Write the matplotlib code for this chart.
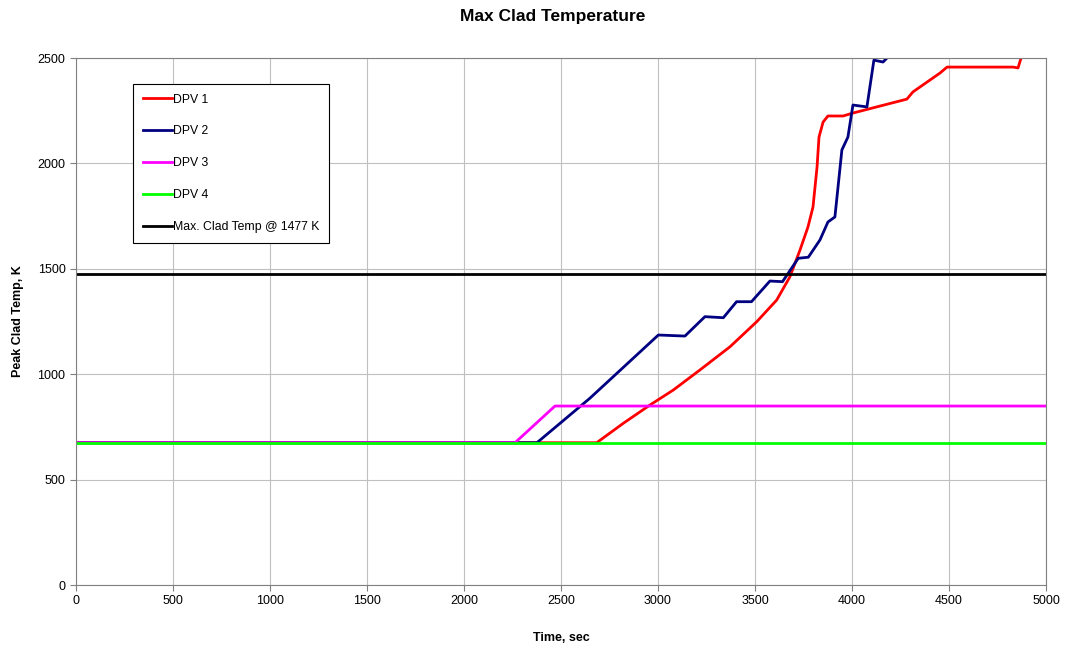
import numpy as np
import matplotlib
matplotlib.use('Agg')
import matplotlib.pyplot as plt

plt.rcParams['font.family'] = ['Liberation Sans', 'DejaVu Sans']

# time (s) / peak clad temperature (K)
t1 = [0, 2684, 2821, 2959, 3079, 3216, 3371, 3509, 3612, 3680, 3732, 3773, 3799, 3820, 3830, 3851, 3876, 3954, 4005, 4283, 4314, 4454, 4490, 4830, 4856, 4876]
T1 = [675, 675, 767, 854, 925, 1020, 1130, 1249, 1352, 1462, 1589, 1698, 1793, 1983, 2125, 2196, 2225, 2225, 2239, 2305, 2339, 2429, 2457, 2457, 2453, 2514]

t2 = [0, 2376, 2649, 3002, 3139, 3242, 3337, 3405, 3482, 3577, 3642, 3723, 3775, 3835, 3876, 3912, 3948, 3979, 4005, 4077, 4113, 4160, 4186]
T2 = [675, 675, 886, 1186, 1181, 1273, 1268, 1344, 1344, 1442, 1439, 1550, 1555, 1637, 1722, 1746, 2064, 2125, 2277, 2268, 2490, 2481, 2505]

t3 = [0, 2263, 2469, 5000]
T3 = [675, 675, 849, 849]

t4 = [0, 5000]
T4 = [675, 675]

limit_T = 1477

fig = plt.figure(figsize=(10.67, 6.49), dpi=100)
ax = fig.add_axes([0.0712, 0.0986, 0.9091, 0.812])

ax.plot(t1, T1, color='#ff0000', lw=2, label='DPV 1')
ax.plot(t2, T2, color='#000080', lw=2, label='DPV 2')
ax.plot(t3, T3, color='#ff00ff', lw=2, label='DPV 3')
ax.plot(t4, T4, color='#00ff00', lw=2, label='DPV 4')
ax.axhline(limit_T, color='black', lw=2, label='Max. Clad Temp @ 1477 K')

ax.set_xlim(0, 5000)
ax.set_ylim(0, 2500)
ax.set_xticks(np.arange(0, 5001, 500))
ax.set_yticks(np.arange(0, 2501, 500))
ax.grid(True, color='#c0c0c0', lw=0.8)
ax.set_axisbelow(True)
for s in ax.spines.values():
    s.set_color('#808080')
ax.tick_params(labelsize=9, color='#808080', length=4)

fig.text(0.518, 1 - 17 / 649, 'Max Clad Temperature', fontsize=12.5,
         fontweight='bold', ha='center', va='center')
ax.set_xlabel('Time, sec', fontsize=9, fontweight='bold', labelpad=18)
ax.set_ylabel('Peak Clad Temp, K', fontsize=9, fontweight='bold', labelpad=10)

leg = ax.legend(loc='upper left', bbox_to_anchor=(0.0588, 0.951), fontsize=8.8,
                labelspacing=1.62, handlelength=2.4, handletextpad=0.1,
                borderpad=0.8, borderaxespad=0, fancybox=False, framealpha=1)
leg.get_frame().set_edgecolor('black')
leg.get_frame().set_linewidth(0.8)

fig.savefig('out.png', dpi=100)
